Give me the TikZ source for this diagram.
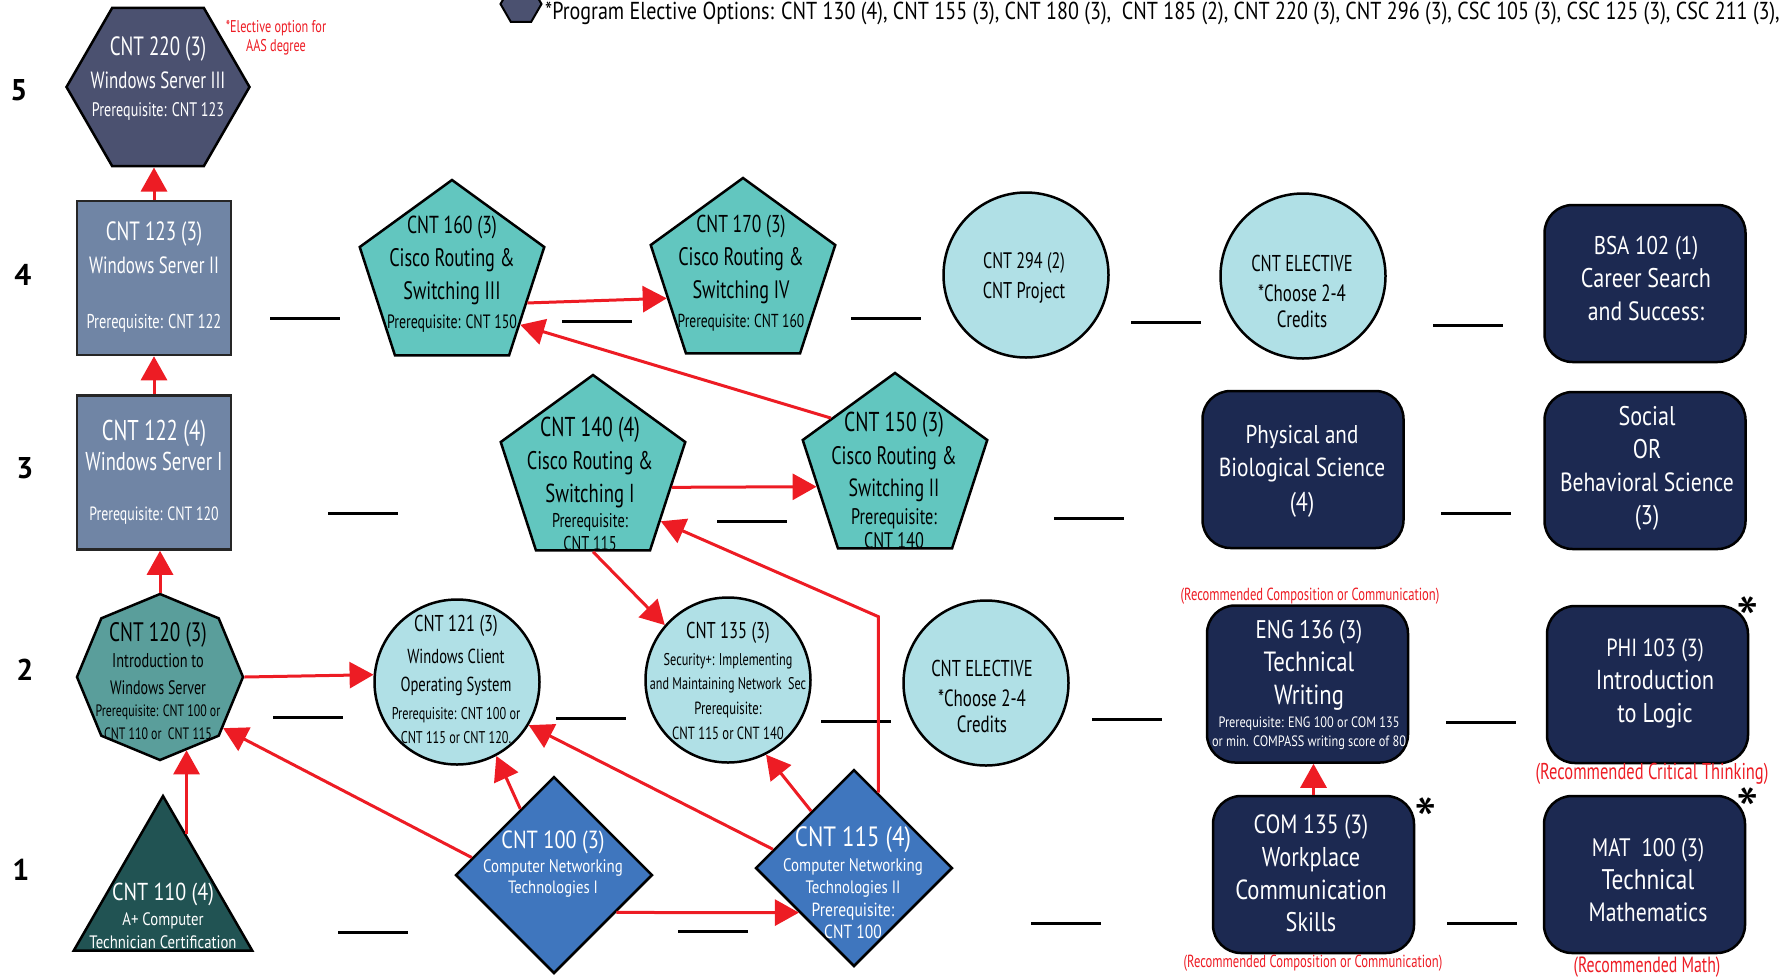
\documentclass[tikz,border=0pt]{standalone}
\usepackage{fontspec}
\setmainfont[FakeStretch=0.72]{PT Sans}
\newfontfamily\semifont[FakeStretch=0.82]{PT Sans}
\newfontfamily\numfont{PT Sans}
\usetikzlibrary{shapes.geometric,arrows.meta}

\definecolor{slate}{HTML}{4B5170}
\definecolor{steel}{HTML}{7085A5}
\definecolor{tealgray}{HTML}{5A9E9B}
\definecolor{pine}{HTML}{215353}
\definecolor{cisco}{HTML}{62C6BF}
\definecolor{pale}{HTML}{B0E0E6}
\definecolor{netblue}{HTML}{3F76BE}
\definecolor{navy}{HTML}{1C2951}
\definecolor{arrowred}{HTML}{ED1C24}

\newcommand{\fs}[1]{\fontsize{#1}{#1}\selectfont}

\tikzset{
  outline/.style={draw=black, line width=2.5pt},
  hexa/.style={outline, regular polygon, regular polygon sides=6, minimum size=183pt, inner sep=0pt, fill=slate},
  winbox/.style={draw=black!85, line width=2.5pt, fill=steel, minimum width=154pt, minimum height=154pt},
  octa/.style={outline, regular polygon, regular polygon sides=8, shape border rotate=22.5, minimum size=166pt, inner sep=0pt, fill=tealgray},
  tri/.style={outline, regular polygon, regular polygon sides=3, minimum size=206pt, inner sep=0pt, fill=pine},
  penta/.style={outline, regular polygon, regular polygon sides=5, minimum size=194pt, inner sep=0pt, fill=cisco},
  course/.style={outline, circle, minimum size=165pt, inner sep=0pt, fill=pale},
  dia/.style={outline, diamond, minimum width=197pt, minimum height=197pt, inner sep=0pt, fill=netblue},
  gened/.style={outline, rounded corners=28pt, minimum width=201pt, minimum height=157pt, fill=navy},
  lbl/.style={align=center, inner sep=0pt, font=\fontsize{26.4}{33}\selectfont},
  lblw/.style={lbl, text=white},
  genlbl/.style={lblw, font=\semifont\fontsize{27}{33}\selectfont},
  note/.style={align=center, inner sep=0pt, text=arrowred, font=\fontsize{17.5}{19}\selectfont},
  rownum/.style={inner sep=0pt, font=\numfont\bfseries\fontsize{30}{30}\selectfont},
  astx/.style={inner sep=0pt, anchor=north, font=\numfont\fontsize{64}{64}\selectfont},
  arr/.style={draw=arrowred, line width=3pt, -{Triangle[length=24pt,width=26pt]}},
  blank/.style={draw=black, line width=3pt},
}

\begin{document}
\begin{tikzpicture}[x=1pt,y=-1pt]
\useasboundingbox (0,0) rectangle (1782,978);

% semester numbers
\node[rownum] (row5) at (19,90) {5};
\node[rownum] (row4) at (23,275) {4};
\node[rownum] (row3) at (25,468) {3};
\node[rownum] (row2) at (25,670) {2};
\node[rownum] (row1) at (21,870) {1};

% legend
\node[hexa, minimum size=41pt, line width=2pt] (legendhex) at (521,4) {};
\node[anchor=base west, inner sep=0pt, font=\semifont\fs{24.5}] (legendtxt) at (545,19) {*Program Elective Options: CNT 130 (4), CNT 155 (3), CNT 180 (3),~ CNT 185 (2), CNT 220 (3), CNT 296 (3), CSC 105 (3), CSC 125 (3), CSC 211 (3),};

% course shapes
\node[hexa] (cnt220) at (158,87) {};
\node[winbox] (cnt123) at (154,278) {};
\node[winbox] (cnt122) at (154,472.5) {};
\node[octa] (cnt120) at (160,677) {};
\node[tri] (cnt110) at (163,899) {};
\node[course] (cnt121) at (457,682) {};
\node[course] (cnt135) at (728,680) {};
\node[course] (elect2) at (986,683) {};
\node[course] (cnt294) at (1026,275) {};
\node[course] (elect4) at (1303,276) {};
\node[penta] (cnt160) at (452,277) {};
\node[penta] (cnt170) at (743,275) {};
\node[penta] (cnt140) at (593,472) {};
\node[penta] (cnt150) at (895,470) {};
\node[dia] (cnt100) at (554,875) {};
\node[dia] (cnt115) at (854,868) {};
\node[gened] (bsa102) at (1645,283.5) {};
\node[gened] (physci) at (1303,469.5) {};
\node[gened] (socsci) at (1645,470.5) {};
\node[gened] (eng136) at (1307.5,684) {};
\node[gened] (phi103) at (1647.5,684.5) {};
\node[gened] (com135) at (1313.5,874.5) {};
\node[gened] (mat100) at (1644.5,874.5) {};

% course texts
\node[lblw] (cnt220txt) at (158,79) {CNT 220 (3)\\{\fs{23.5}Windows Server III}\\[-5pt]{\fs{19.6}Prerequisite: CNT 123}};
\node[lblw] (cnt123txt) at (154,277.5) {CNT 123 (3)\\{\fs{23.5}Windows Server II}\\[22pt]{\fs{20}Prerequisite: CNT 122}};
\node[lblw] (cnt122txt) at (154,472) {{\fs{28.6}CNT 122 (4)}\\[-3pt]{\fs{25.8}Windows Server I}\\[17pt]{\fs{19.2}Prerequisite: CNT 120}};
\node[lbl] (cnt120txt) at (158,681) {{\fs{26.7}CNT 120 (3)}\\[-7pt]{\fs{19.9}Introduction to}\\[-6pt]{\fs{19.5}Windows Server}\\[-11pt]{\fs{16.5}Prerequisite: CNT 100 or}\\[-10pt]{\fs{16.5}CNT 110 or~~CNT 115}};
\node[lblw, font=\semifont\fontsize{24.5}{33}\selectfont] (cnt110txt) at (163,916) {CNT 110 (4)\\[-8pt]{\fs{18}A+ Computer}\\[-10pt]{\fs{18}Technician Certification}};
\node[lblw, font=\semifont\fontsize{24.8}{33}\selectfont] (cnt100txt) at (553,864) {CNT 100 (3)\\[-9pt]{\fs{18.2}Computer Networking}\\[-12pt]{\fs{17.9}Technologies I}};
\node[lblw, font=\semifont\fontsize{27.9}{33}\selectfont] (cnt115txt) at (853,883) {CNT 115 (4)\\[-8pt]{\fs{18.2}Computer Networking}\\[-11pt]{\fs{18}Technologies II}\\[-10pt]{\fs{19}Prerequisite:}\\[-11pt]{\fs{19}CNT 100}};
\node[lbl] (cnt121txt) at (456,679) {{\fs{22.9}CNT 121 (3)}\\[-1pt]{\fs{20.3}Windows Client}\\[-5pt]{\fs{20.3}Operating System}\\[-5pt]{\fs{17}Prerequisite: CNT 100 or}\\[-9pt]{\fs{17}CNT 115 or CNT 120.}};
\node[lbl] (cnt135txt) at (728,681) {{\fs{22.9}CNT 135 (3)}\\[-6pt]{\fs{17}Security+: Implementing}\\[-9pt]{\fs{16.9}and Maintaining Network~ Sec}\\[-8pt]{\fs{17.6}Prerequisite:}\\[-8pt]{\fs{17.6}CNT 115 or CNT 140}};
\node[lbl] (elect2txt) at (982,696) {{\fs{22.9}CNT ELECTIVE}\\[-3pt]{\fs{23.5}*Choose 2-4}\\[-7pt]{\fs{23.5}Credits}};
\node[lbl] (elect4txt) at (1302,291) {{\fs{22.9}CNT ELECTIVE}\\[-3pt]{\fs{23.5}*Choose 2-4}\\[-7pt]{\fs{23.5}Credits}};
\node[lbl] (cnt294txt) at (1024,278) {{\fs{22.4}CNT 294 (2)}\\[-3pt]{\fs{22.8}CNT Project}};
\node[lbl] (cnt160txt) at (452,274.5) {{\fs{24.6}CNT 160 (3)}\\{\fs{25.3}Cisco Routing \&}\\{\fs{25.2}Switching III}\\[-4pt]{\fs{19.3}Prerequisite: CNT 150}};
\node[lbl] (cnt170txt) at (741,273.5) {{\fs{24.4}CNT 170 (3)}\\{\fs{25.3}Cisco Routing \&}\\{\fs{25.2}Switching IV}\\[-4pt]{\fs{18.8}Prerequisite: CNT 160}};
\node[lbl] (cnt140txt) at (590,484) {{\fs{27.3}CNT 140 (4)}\\{\fs{25.5}Cisco Routing \&}\\{\fs{26}Switching I}\\[-8pt]{\fs{19.9}Prerequisite:}\\[-10pt]{\fs{20}CNT 115}};
\node[lbl] (cnt150txt) at (894,480) {{\fs{27.3}CNT 150 (3)}\\{\fs{25.3}Cisco Routing \&}\\[-1pt]{\fs{24.9}Switching II}\\[-5pt]{\fs{22.5}Prerequisite:}\\[-9pt]{\fs{22.5}CNT 140}};
\node[genlbl] (bsa102txt) at (1646,278.5) {{\fs{25.6}BSA 102 (1)}\\Career Search\\{\fs{26.5}and Success:}};
\node[genlbl] (physcitxt) at (1302,471) {{\fs{25.7}Physical and}\\{\fs{26.1}Biological Science}\\[2pt](4)};
\node[genlbl] (socscitxt) at (1647,468) {Social\\OR\\{\fs{26.3}Behavioral Science}\\(3)};
\node[genlbl] (eng136txt) at (1309,684.5) {{\fs{25.5}ENG 136 (3)}\\{\fs{27.8}Technical}\\{\fs{27.6}Writing}\\[-10pt]{\fs{15}Prerequisite: ENG 100 or COM 135}\\[-14pt]{\fs{15}or min. COMPASS writing score of 80}};
\node[genlbl] (phi103txt) at (1655,684) {{\fs{24.8}PHI 103 (3)}\\{\fs{27.4}Introduction}\\{\fs{27.2}to Logic}};
\node[genlbl] (com135txt) at (1311,873) {{\fs{26.4}COM 135 (3)}\\{\fs{27.2}Workplace}\\{\fs{27.6}Communication}\\[-1pt]Skills};
\node[genlbl] (mat100txt) at (1648,880) {{\fs{25.3}MAT~ 100 (3)}\\{\fs{28.4}Technical}\\[-1pt]{\fs{26.5}Mathematics}};

% red remarks
\node[note, font=\fontsize{17}{19}\selectfont] (aasnote) at (276,38) {*Elective option for\\AAS degree};
\node[note] (engnote) at (1310,596) {(Recommended Composition or Communication)};
\node[note] (comnote) at (1313,963) {(Recommended Composition or Communication)};
\node[note, font=\fs{22.9}] (phinote) at (1652,774) {(Recommended Critical Thinking)};
\node[note, font=\fs{22}] (matnote) at (1647,967) {(Recommended Math)};
\node[astx] (phistar) at (1748,597) {*};
\node[astx] (comstar) at (1426,798) {*};
\node[astx] (matstar) at (1748,788) {*};

% grade blanks
\foreach \x/\y in {270/318, 562/321, 851/318, 1131/322, 1433/325, 328/513, 717/521, 1054/518, 1441/513,
  273/717, 556/718, 821/721, 1092/719, 1446/722, 338/932, 678/931, 1031/923, 1447/923}
  \draw[blank] (\x,\y) -- ++(70,0);

% prerequisites
\draw[arr] (cnt123.north) -- (cnt123.north |- cnt220.south);
\draw[arr] (cnt122.north) -- (cnt123.south);
\draw[arr] (cnt120.north) -- (cnt120.north |- cnt122.south);
\draw[arr] (cnt110.70) -- (cnt110.70 |- cnt120.-70);
\draw[arr] (cnt120.east) -- (cnt121.175);
\draw[arr] (cnt100.168) -- (cnt120.-39);
\draw[arr] (cnt100.117) -- (cnt121.-62);
\draw[arr] (cnt100.-31) -- (cnt115.219);
\draw[arr] (cnt115.167) -- (cnt121.-31);
\draw[arr] (cnt115.127) -- (cnt135.-63);
\draw[arr] (cnt115.72) -- ++(0,-176) -- (cnt140.-36);
\draw[arr] (cnt140.south) -- (cnt135.139);
\draw[arr] (cnt140.-11) -- (cnt150.192);
\draw[arr] (cnt150.141) -- (cnt160.-35);
\draw[arr] (cnt160.-19) -- (cnt170.197);
\draw[arr] (com135.north) -- (com135.north |- eng136.south);
\end{tikzpicture}
\end{document}
